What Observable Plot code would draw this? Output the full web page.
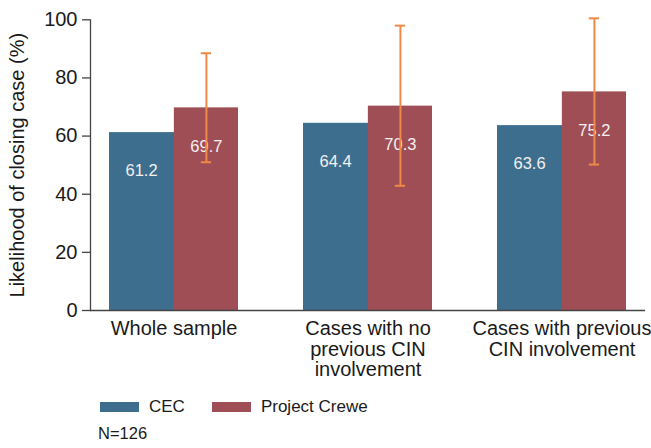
<!DOCTYPE html>
<html>
<head>
<meta charset="utf-8">
<script src="https://cdn.jsdelivr.net/npm/d3@7"></script>
<script src="https://cdn.jsdelivr.net/npm/@observablehq/plot@0.6"></script>
<style>
  body { margin: 0; background: #fff; font-family: "Liberation Sans", Arial, sans-serif; color: #1a1a1a; }
  #wrap { position: relative; width: 651px; height: 448px; overflow: hidden; }
  #plot { position: absolute; left: 0; top: 0; }
  #legend { position: absolute; left: 100px; top: 397px; display: flex; align-items: center; font-size: 17px; }
  .item { display: flex; align-items: center; margin-right: 27px; }
  .swatch { width: 39px; height: 10px; margin-right: 10px; }
  #note { position: absolute; left: 98px; top: 425px; font-size: 16.5px; line-height: 1; }
</style>
</head>
<body>
<div id="wrap">
  <div id="plot"></div>
  <div id="legend"></div>
  <div id="note"></div>
</div>
<script>
// Groups of cases and their wrapped axis labels
const groups = ["Whole sample", "Cases with no previous CIN involvement", "Cases with previous CIN involvement"];
const groupLabels = ["Whole sample", "Cases with no\nprevious CIN\ninvolvement", "Cases with previous\nCIN involvement"];

// Series
const series = ["CEC", "Project Crewe"];
const seriesColors = ["#3e6e8e", "#9f4e55"];

// Likelihood of closing case (%)
const cecValues = [61.2, 64.4, 63.6];
const creweValues = [69.7, 70.3, 75.2];

// Confidence interval for Project Crewe
const creweLow = [51.0, 42.9, 50.2];
const creweHigh = [88.5, 98.0, 100.5];

const yTicks = [0, 20, 40, 60, 80, 100];
const yLabel = "Likelihood of closing case (%)";
const note = "N=126";

const W = 651, H = 390;
const mLeft = 90, mRight = 6, mTop = 19.3, mBottom = 80;
const padInner = 0.334, padOuter = 0.092;

// Same band layout as the Plot x scale, used to split each band in two
const band = d3.scaleBand().domain(groups).range([mLeft, W - mRight])
  .paddingInner(padInner).paddingOuter(padOuter);
const bw = band.bandwidth();
const half = bw / 2;
const capHalf = 5.5;

const cecRows = groups.map((g, i) => ({group: g, value: cecValues[i]}));
const creweRows = groups.map((g, i) => ({group: g, value: creweValues[i], low: creweLow[i], high: creweHigh[i]}));

const errColor = "#ee8a46";
const axisColor = "#444";

const chart = Plot.plot({
  width: W,
  height: H,
  marginLeft: mLeft,
  marginRight: mRight,
  marginTop: mTop,
  marginBottom: mBottom,
  style: {fontFamily: "'Liberation Sans', Arial, sans-serif", color: "#1a1a1a", background: "#fff"},
  x: {type: "band", domain: groups, paddingInner: padInner, paddingOuter: padOuter},
  y: {domain: [0, 100]},
  marks: [
    // the CEC bar runs slightly under the Project Crewe bar so no seam shows
    Plot.barY(cecRows, {x: "group", y: "value", fill: seriesColors[0], insetRight: half - 1}),
    Plot.barY(creweRows, {x: "group", y: "value", fill: seriesColors[1], insetLeft: half}),
    Plot.text(cecRows, {x: "group", y: "value", text: d => d.value.toFixed(1), dx: -bw / 4, dy: 38.5, fill: "#f3f0f0", fontSize: 16.5}),
    Plot.text(creweRows, {x: "group", y: "value", text: d => d.value.toFixed(1), dx: bw / 4, dy: 38.5, fill: "#f3f0f0", fontSize: 16.5}),
    Plot.ruleX(creweRows, {x: "group", y1: "low", y2: "high", dx: bw / 4, stroke: errColor, strokeWidth: 2}),
    Plot.tickY(creweRows, {x: "group", y: "high", stroke: errColor, strokeWidth: 2, insetLeft: bw * 0.75 - capHalf, insetRight: bw * 0.25 - capHalf}),
    Plot.tickY(creweRows, {x: "group", y: "low", stroke: errColor, strokeWidth: 2, insetLeft: bw * 0.75 - capHalf, insetRight: bw * 0.25 - capHalf}),
    Plot.frame({anchor: "left", stroke: axisColor, strokeWidth: 1.3}),
    Plot.ruleY([0], {stroke: axisColor, strokeWidth: 1.3}),
    Plot.axisY({ticks: yTicks, tickSize: 8, tickPadding: 5, fontSize: 20, stroke: axisColor, strokeWidth: 1.3,
      label: yLabel, labelAnchor: "center", labelArrow: "none", labelOffset: 81}),
    Plot.axisX({tickSize: 0, tickPadding: 10, fontSize: 20, lineHeight: 1.03, label: null,
      tickFormat: d => groupLabels[groups.indexOf(d)]})
  ]
});
document.getElementById("plot").appendChild(chart);

// Legend below the chart
const legend = document.getElementById("legend");
series.forEach((s, i) => {
  const item = document.createElement("div");
  item.className = "item";
  const sw = document.createElement("span");
  sw.className = "swatch";
  sw.style.background = seriesColors[i];
  const label = document.createElement("span");
  label.textContent = s;
  item.appendChild(sw);
  item.appendChild(label);
  legend.appendChild(item);
});
document.getElementById("note").textContent = note;
</script>
</body>
</html>
